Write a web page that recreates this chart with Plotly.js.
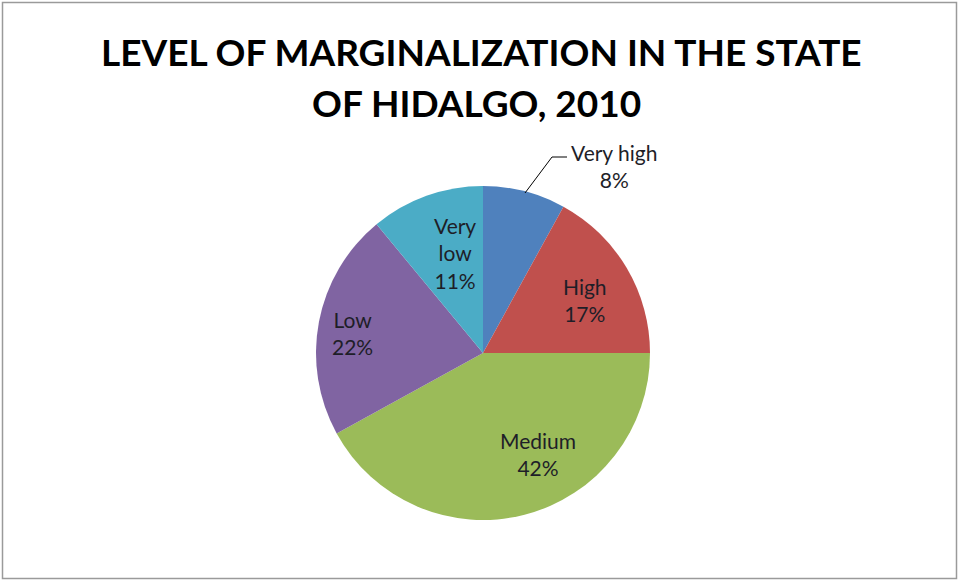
<!DOCTYPE html>
<html>
<head>
<meta charset="utf-8">
<script src="https://cdn.plot.ly/plotly-3.0.1.min.js"></script>
<style>
html,body{margin:0;padding:0;background:#fff;}
#chart{width:959px;height:581px;}
</style>
</head>
<body>
<div id="chart"></div>
<script>
// Data
const categories = ["Very high", "High", "Medium", "Low", "Very low"];
const shares = [8, 17, 42, 22, 11];
const colors = ["#4F81BD", "#C0504D", "#9BBB59", "#8064A2", "#4BACC6"];
const titleLines = ["LEVEL OF MARGINALIZATION IN THE STATE", "OF HIDALGO, 2010"];

const W = 959, H = 581;
const px = x => x / W;
const py = y => 1 - y / H;

// pie geometry (pixels)
const cx = 483, cy = 353, R = 167;

const total = shares.reduce((a, b) => a + b, 0);
const pctText = shares.map(v => Math.round(v / total * 100) + "%");

// label placements (pixel centres)
const labelPos = [
  [614, 166],   // Very high (outside)
  [585, 300],   // High
  [538, 454],   // Medium
  [352, 333],   // Low
  [455, 253]    // Very low
];
const labelLines = [
  categories[0] + "<br>" + pctText[0],
  categories[1] + "<br>" + pctText[1],
  categories[2] + "<br>" + pctText[2],
  categories[3] + "<br>" + pctText[3],
  "Very<br>low<br>" + pctText[4]
];

const labelFont = {family: "Lato, 'Open Sans', sans-serif", size: 21, color: "#1e1e28"};
const annotations = labelLines.map((t, i) => ({
  text: t,
  xref: "paper", yref: "paper",
  x: px(labelPos[i][0]), y: py(labelPos[i][1]),
  xanchor: "center", yanchor: "middle",
  showarrow: false,
  font: labelFont,
  align: "center"
}));

const titlePos = [[481.5, 52], [476.5, 103]];
titleLines.forEach((t, i) => annotations.push({
  text: "<b>" + t + "</b>",
  xref: "paper", yref: "paper",
  x: px(titlePos[i][0]), y: py(titlePos[i][1]),
  xanchor: "center", yanchor: "middle",
  showarrow: false,
  font: {family: "Lato, 'Open Sans', sans-serif", size: 37, color: "#000"}
}));

const trace = {
  type: "pie",
  labels: categories,
  values: shares,
  sort: false,
  direction: "clockwise",
  rotation: 0,
  marker: {colors: colors, line: {width: 0}},
  textinfo: "none",
  hoverinfo: "label+percent",
  showlegend: false,
  domain: {x: [px(cx - R), px(cx + R)], y: [py(cy + R), py(cy - R)]}
};

const layout = {
  width: W, height: H,
  margin: {l: 0, r: 0, t: 0, b: 0},
  paper_bgcolor: "#ffffff",
  plot_bgcolor: "#ffffff",
  showlegend: false,
  annotations: annotations,
  shapes: [
    {type: "rect", xref: "paper", yref: "paper",
     x0: px(2.5), x1: px(956.5), y0: py(578.5), y1: py(2.5),
     line: {color: "#9a9a9a", width: 1.5}, fillcolor: "rgba(0,0,0,0)"},
    {type: "path", xref: "paper", yref: "paper",
     path: `M ${px(525)} ${py(193)} L ${px(552)} ${py(157)} L ${px(567)} ${py(157)}`,
     line: {color: "#000", width: 1}}
  ]
};

Plotly.newPlot("chart", [trace], layout, {displayModeBar: false, staticPlot: true});
</script>
</body>
</html>
